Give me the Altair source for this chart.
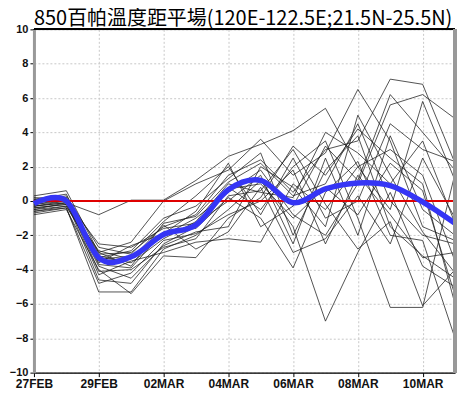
import altair as alt
import pandas as pd

# Day labels (27FEB .. 11MAR 2024, daily)
days = ["27FEB", "28FEB", "29FEB", "01MAR", "02MAR", "03MAR", "04MAR",
        "05MAR", "06MAR", "07MAR", "08MAR", "09MAR", "10MAR", "11MAR"]
tick_days = [0, 2, 4, 6, 8, 10, 12]
y_ticks = [-10, -8, -6, -4, -2, 0, 2, 4, 6, 8, 10]

# Ensemble members (850 hPa temperature anomaly, degC)
m01 = [-0.3, -0.1, -0.8, 0.05, 0.05, 1.2, 2.6, 3.3, 4.1, 5.4, 2.0, 3.0, 1.5, -3.5]
m02 = [0.3, 0.6, -3.0, -2.4, 0.0, 1.0, 1.8, 3.6, 1.5, 2.8, 6.5, 3.5, -1.5, -2.3]
m03 = [-0.2, 0.1, -3.1, -3.0, -1.5, -0.8, 1.5, 2.4, 0.5, 3.0, 3.5, 7.1, 6.8, 2.2]
m04 = [-0.5, -0.3, -3.5, -3.3, -2.0, -1.0, 0.5, 1.8, -0.8, -2.0, 1.0, 5.6, 6.2, 4.8]
m05 = [0.1, 0.0, -4.6, -4.8, -2.5, -1.5, 0.8, -0.5, 2.0, 3.5, -1.0, -6.2, -6.2, 1.6]
m06 = [-0.6, -0.4, -5.3, -5.3, -2.8, -2.0, -0.5, 1.2, -1.5, -7.0, -3.0, 0.5, -3.8, -5.0]
m07 = [-0.8, -0.5, -4.0, -5.4, -3.2, -3.3, -1.0, 0.2, 3.2, 1.5, 4.2, 2.5, 1.0, -6.0]
m08 = [-0.1, 0.2, -3.7, -3.9, -1.8, -1.6, 0.2, -1.0, -3.9, 0.5, 2.3, -2.0, -2.3, -8.0]
m09 = [-0.4, -0.2, -3.2, -3.6, -2.2, -1.2, 1.0, 0.5, 0.2, 4.0, 2.8, 1.0, 3.5, -1.3]
m10 = [0.0, 0.3, -2.7, -3.1, -1.2, 0.3, 2.0, -0.8, 2.5, -1.0, 0.0, 4.5, 3.0, 2.3]
m11 = [-0.3, -0.1, -3.8, -4.5, -2.6, -1.8, -1.5, 2.0, 0.8, -1.5, 5.0, 1.5, -1.8, -4.2]
m12 = [0.2, 0.1, -4.3, -3.5, -3.0, -2.4, -2.2, -2.4, 1.0, -0.5, 2.0, -0.5, 5.8, 1.2]
m13 = [-0.6, -0.3, -3.3, -2.9, -1.0, -0.3, 1.3, 2.8, -2.0, 1.8, 3.8, -1.5, -3.2, -4.5]
m14 = [-0.2, 0.0, -2.5, -2.7, -1.6, -1.3, 0.0, 1.5, -2.5, 2.5, -2.0, 3.8, -0.5, -2.0]
m15 = [-0.7, -0.4, -4.8, -4.2, -2.3, -1.9, -0.8, 0.0, 1.8, -2.5, 1.5, -0.8, -3.3, -3.0]
m16 = [0.1, 0.4, -3.4, -3.2, -2.0, -1.4, 0.7, 1.0, -1.0, 0.8, -0.8, 2.2, 0.6, -5.5]
m17 = [-0.4, -0.2, -2.9, -3.4, -1.4, -2.8, -1.8, 0.8, -3.0, -2.2, 0.3, -2.5, 2.5, -1.0]
m18 = [-0.5, -0.1, -3.6, -2.6, -1.9, -0.6, 2.2, -1.5, -0.3, 3.2, 1.2, 6.2, 4.0, 1.8]
m19 = [0.0, 0.2, -4.1, -4.0, -2.7, -2.2, 0.3, 0.6, 3.0, -0.2, -2.8, -1.2, -6.1, -4.0]
m20 = [-0.3, 0.0, -3.0, -3.8, -1.3, -0.9, 1.1, 2.2, 0.3, 1.0, 4.5, 0.0, -2.0, -2.5]
members = [m01, m02, m03, m04, m05, m06, m07, m08, m09, m10,
           m11, m12, m13, m14, m15, m16, m17, m18, m19, m20]

# Ensemble mean
ens_mean = [-0.15, 0.0, -3.3, -3.25, -1.95, -1.4, 0.65, 1.2, -0.1, 0.7, 1.05, 0.9, -0.05, -1.3]

rows = []
for k, mem in enumerate(members):
    for d, v in enumerate(mem):
        rows.append({"member": f"m{k+1:02d}", "day": d, "value": v})
df_members = pd.DataFrame(rows)
df_mean = pd.DataFrame({"day": list(range(len(ens_mean))), "value": ens_mean})

label_expr = "[" + ",".join(f"'{s}'" for s in days) + "][datum.value]"

xscale = alt.Scale(domain=[0, 13], nice=False, zero=False)
yscale = alt.Scale(domain=[-10, 10], nice=False)

FONT = "Liberation Sans Narrow, Liberation Sans, Arial"

x_axis = alt.Axis(values=tick_days, labelExpr=label_expr, title=None,
                  grid=True, gridDash=[2, 2], gridColor="#c8c8c8", gridWidth=1,
                  domainColor="black", domainWidth=1.5, tickColor="black",
                  tickSize=4, labelPadding=2, labelFont=FONT, labelFontSize=12,
                  labelFontWeight="bold", labelColor="#111", labelFlush=False,
                  labelOverlap=False)
y_axis = alt.Axis(values=y_ticks, title=None,
                  grid=True, gridDash=[2, 2], gridColor="#c8c8c8", gridWidth=1,
                  domainColor="#999999", domainWidth=3, tickColor="black",
                  tickSize=4, labelPadding=2, labelFont=FONT, labelFontSize=11,
                  labelFontWeight="bold", labelColor="#111", labelOverlap=False,
                  labelFlush=False)

X = alt.X("day:Q", scale=xscale, axis=x_axis)
Y = alt.Y("value:Q", scale=yscale, axis=y_axis)

lines = alt.Chart(df_members).mark_line(
    color="#1e1e1e", strokeWidth=0.9, opacity=0.85
).encode(x=X, y=Y, detail="member:N")

zero = alt.Chart(df_mean).mark_rule(color="#e00000", strokeWidth=0.8).encode(
    y=alt.Y(datum=0, scale=yscale, axis=y_axis)
)
top = alt.Chart(df_mean).mark_rule(color="black", strokeWidth=1.5).encode(
    y=alt.Y(datum=10, scale=yscale, axis=y_axis)
)
right = alt.Chart(df_mean).mark_rule(color="#999999", strokeWidth=3).encode(
    x=alt.X(datum=13, scale=xscale, axis=x_axis)
)

mean_line = alt.Chart(df_mean).mark_line(
    color="#3535f5", strokeWidth=5.5, interpolate="cardinal"
).encode(x=X, y=Y)

chart = alt.layer(lines, zero, mean_line, top, right).properties(
    width=422, height=344,
    autosize=alt.AutoSizeParams(type="none"),
    padding={"left": 26, "top": 21, "right": 12, "bottom": 22},
    title=alt.TitleParams(
        "850百帕溫度距平場(120E-122.5E;21.5N-25.5N)",
        anchor="start", frame="group", font="Noto Sans CJK TC",
        fontSize=20, fontWeight="normal", color="black", offset=-6,
    ),
).configure_view(stroke=None).configure(background="white")

chart.save("out.html", embed_options={"renderer": "svg", "actions": False})
